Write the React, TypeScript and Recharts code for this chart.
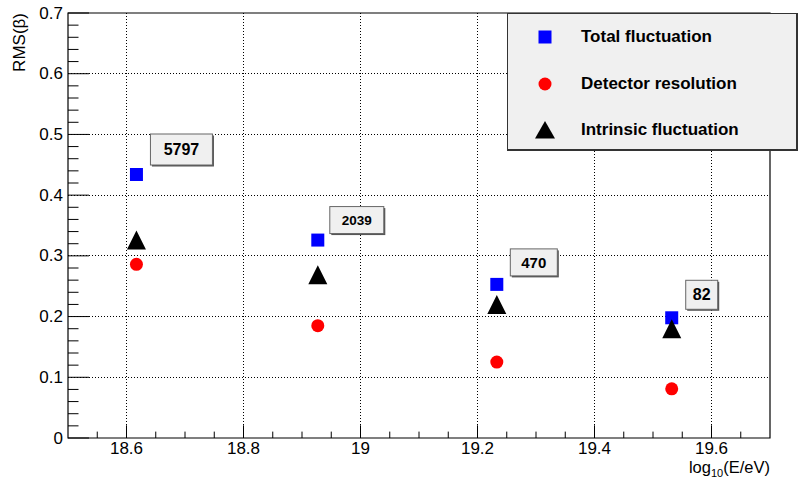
import React from "react"
import { ScatterChart, Scatter, XAxis, YAxis, CartesianGrid, ReferenceArea, Legend } from "recharts"

// log10(E/eV) bin centres and RMS(beta) per bin
const energyBins = [18.617, 18.927, 19.233, 19.532]
const totalFluct = [0.434, 0.326, 0.253, 0.198]
const detectorRes = [0.286, 0.185, 0.125, 0.081]
const intrinsicFluct = [0.326, 0.269, 0.22, 0.18]
const eventCounts = [5797, 2039, 470, 82]

const xMajorTicks = [18.6, 18.8, 19, 19.2, 19.4, 19.6]
const yMajorTicks = [0, 0.1, 0.2, 0.3, 0.4, 0.5, 0.6, 0.7]

const FONT = "'Liberation Sans', Arial, Helvetica, sans-serif"

// minor ticks every 0.05 on x and 0.02 on y
const steps = (from: number, to: number, step: number) => {
  const out: number[] = []
  for (let v = from; v <= to + 1e-9; v += step) out.push(+v.toFixed(3))
  return out
}
const xTicks = steps(18.55, 19.65, 0.05)
const yTicks = steps(0, 0.7, 0.02)

const isMajor = (v: number, majors: number[]) => majors.some((m) => Math.abs(m - v) < 1e-6)

// count boxes: offset from the square and box size / font
const countBoxes = [
  { dx: 45, dy: -25, w: 62, h: 31, font: 16 },
  { dx: 39, dy: -20, w: 54, h: 27, font: 13.5 },
  { dx: 37, dy: -22, w: 47, h: 27, font: 15 },
  { dx: 30, dy: -23, w: 32, h: 29, font: 16 },
]

const totalData = energyBins.map((e, i) => ({ e, v: totalFluct[i], count: eventCounts[i] }))
const detectorData = energyBins.map((e, i) => ({ e, v: detectorRes[i] }))
const intrinsicData = energyBins.map((e, i) => ({ e, v: intrinsicFluct[i] }))

const XTick = (props: any) => {
  const { x, y, payload } = props
  const major = isMajor(payload.value, xMajorTicks)
  return (
    <g>
      <line x1={x} x2={x} y1={y} y2={y - (major ? 12.7 : 6.4)} stroke="#000" />
      {major && (
        <text x={x} y={y + 10.5} textAnchor="middle" dominantBaseline="central" fontSize={17} fontFamily={FONT} fill="#000">
          {String(payload.value)}
        </text>
      )}
    </g>
  )
}

const YTick = (props: any) => {
  const { x, y, payload } = props
  const major = isMajor(payload.value, yMajorTicks)
  return (
    <g>
      <line x1={x} x2={x + (major ? 21 : 10.5)} y1={y} y2={y} stroke="#000" />
      {major && (
        <text x={x - 5} y={y} textAnchor="end" dominantBaseline="central" fontSize={17} fontFamily={FONT} fill="#000">
          {String(payload.value)}
        </text>
      )}
    </g>
  )
}

const YTitle = (props: any) => {
  const { viewBox } = props
  const x = 19.5
  const y = viewBox.y
  return (
    <text x={x} y={y} transform={`rotate(-90, ${x}, ${y})`} textAnchor="end" dominantBaseline="central" fontSize={17} fontFamily={FONT} fill="#000">
      RMS(β)
    </text>
  )
}

const XTitle = (props: any) => {
  const { viewBox } = props
  return (
    <text x={viewBox.x + viewBox.width} y={viewBox.y + 35} textAnchor="end" fontSize={16.5} fontFamily={FONT} fill="#000">
      log
      <tspan fontSize={11} dy={4}>10</tspan>
      <tspan dy={-4}>(E/eV)</tspan>
    </text>
  )
}

const CountBox = ({ cx, cy, count, i }: { cx: number; cy: number; count: number; i: number }) => {
  const b = countBoxes[i]
  const bx = cx + b.dx - b.w / 2
  const by = cy + b.dy - b.h / 2
  return (
    <g>
      <rect x={bx + 1.5} y={by + 1.5} width={b.w} height={b.h} fill="#555" />
      <rect x={bx} y={by} width={b.w} height={b.h} fill="#f0f0f0" stroke="#666" />
      <text x={cx + b.dx} y={cy + b.dy} textAnchor="middle" dominantBaseline="central" fontSize={b.font} fontWeight="bold" fontFamily={FONT} fill="#000">
        {count}
      </text>
    </g>
  )
}

const SquareMark = (props: any) => {
  const { cx, cy, payload } = props
  const i = eventCounts.indexOf(payload.count)
  return (
    <g>
      <rect x={cx - 6.5} y={cy - 6.5} width={13} height={13} fill="#0000ff" />
      <CountBox cx={cx} cy={cy} count={payload.count} i={i} />
    </g>
  )
}

const CircleMark = (props: any) => <circle cx={props.cx} cy={props.cy} r={6.5} fill="#ff0000" />

const TriangleMark = (props: any) => {
  const { cx, cy } = props
  return <polygon points={`${cx - 9.5},${cy + 9.5} ${cx + 9.5},${cy + 9.5} ${cx},${cy - 9.5}`} fill="#000" />
}

const legendItems = [
  { name: "Total fluctuation", mark: "square" },
  { name: "Detector resolution", mark: "circle" },
  { name: "Intrinsic fluctuation", mark: "triangle" },
]

const LegendBox = () => (
  <div
    style={{
      position: "relative",
      width: 291,
      height: 138,
      boxSizing: "border-box",
      background: "#f0f0f0",
      border: "1px solid #333",
      borderRightWidth: 2,
      borderBottomWidth: 2,
      fontFamily: FONT,
    }}
  >
    {legendItems.map((item, i) => (
      <div key={item.name} style={{ position: "absolute", left: 0, top: 23 + i * 46.5 - 12, height: 24, width: "100%" }}>
        <svg width={24} height={24} style={{ position: "absolute", left: 25, top: 0 }}>
          {item.mark === "square" && <rect x={5.5} y={5.5} width={13} height={13} fill="#0000ff" />}
          {item.mark === "circle" && <circle cx={12} cy={12} r={6.5} fill="#ff0000" />}
          {item.mark === "triangle" && <polygon points="2,20.5 22,20.5 12,3" fill="#000" />}
        </svg>
        <span style={{ position: "absolute", left: 73, top: 0, lineHeight: "24px", fontSize: 17, fontWeight: "bold", color: "#000", whiteSpace: "nowrap" }}>
          {item.name}
        </span>
      </div>
    ))}
  </div>
)

export default function App() {
  return (
    <div style={{ position: "absolute", left: 0, top: 0, background: "#fff" }}>
      <ScatterChart width={799} height={481} margin={{ top: 13, right: 29, bottom: 0, left: 0 }}>
        <CartesianGrid
          stroke="#000"
          strokeDasharray="1 2"
          shapeRendering="crispEdges"
          horizontalValues={[0.1, 0.2, 0.3, 0.4, 0.5, 0.6]}
          verticalValues={xMajorTicks}
        />
        <XAxis
          type="number"
          dataKey="e"
          domain={[18.5, 19.7]}
          allowDataOverflow
          ticks={xTicks}
          interval={0}
          tickSize={0}
          tickMargin={0}
          tickLine={false}
          axisLine={false}
          height={43}
          tick={XTick}
          label={<XTitle />}
        />
        <YAxis
          type="number"
          dataKey="v"
          domain={[0, 0.7]}
          allowDataOverflow
          ticks={yTicks}
          interval={0}
          tickSize={0}
          tickMargin={0}
          tickLine={false}
          axisLine={false}
          width={68}
          tick={YTick}
          label={<YTitle />}
        />
        <ReferenceArea x1={18.5} x2={19.7} y1={0} y2={0.7} fill="none" stroke="#000" strokeWidth={1.2} />
        <Scatter name="Total fluctuation" data={totalData} shape={SquareMark} isAnimationActive={false} />
        <Scatter name="Detector resolution" data={detectorData} shape={CircleMark} isAnimationActive={false} />
        <Scatter name="Intrinsic fluctuation" data={intrinsicData} shape={TriangleMark} isAnimationActive={false} />
        <Legend
          layout="vertical"
          align="center"
          verticalAlign="middle"
          content={LegendBox}
          wrapperStyle={{ position: "absolute", left: 507, top: 13, width: 291, height: 138 }}
        />
      </ScatterChart>
    </div>
  )
}
